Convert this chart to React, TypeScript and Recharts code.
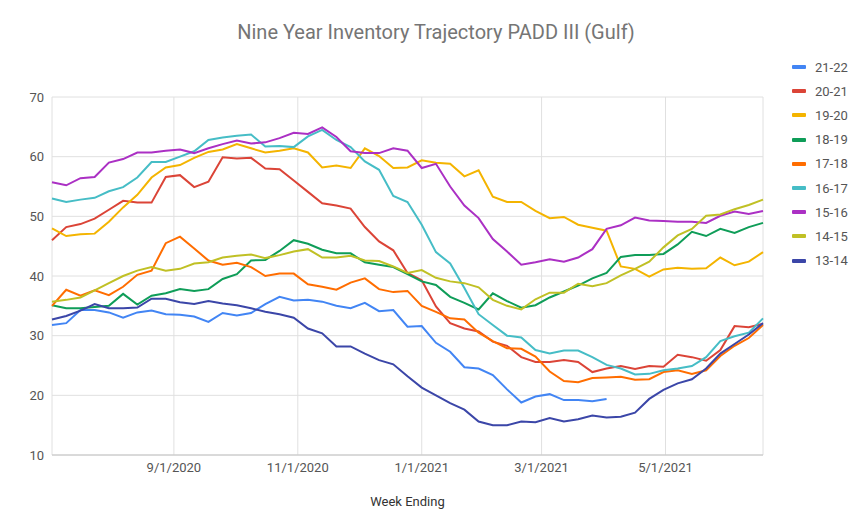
import React from 'react';
import { LineChart, Line, XAxis, YAxis, CartesianGrid } from 'recharts';

const weeks = [
  '2020-07-03', '2020-07-10', '2020-07-17', '2020-07-24', '2020-07-31',
  '2020-08-07', '2020-08-14', '2020-08-21', '2020-08-28',
  '2020-09-04', '2020-09-11', '2020-09-18', '2020-09-25',
  '2020-10-02', '2020-10-09', '2020-10-16', '2020-10-23', '2020-10-30',
  '2020-11-06', '2020-11-13', '2020-11-20', '2020-11-27',
  '2020-12-04', '2020-12-11', '2020-12-18', '2020-12-25',
  '2021-01-01', '2021-01-08', '2021-01-15', '2021-01-22', '2021-01-29',
  '2021-02-05', '2021-02-12', '2021-02-19', '2021-02-26',
  '2021-03-05', '2021-03-12', '2021-03-19', '2021-03-26',
  '2021-04-02', '2021-04-09', '2021-04-16', '2021-04-23', '2021-04-30',
  '2021-05-07', '2021-05-14', '2021-05-21', '2021-05-28',
  '2021-06-04', '2021-06-11', '2021-06-18',
];

const tickDates = ['2020-09-01', '2020-11-01', '2021-01-01', '2021-03-01', '2021-05-01'];
const yTicks = [10, 20, 30, 40, 50, 60, 70];

const s2122 = [
  31.8, 32.1, 34.3, 34.3, 33.9, 33.0, 33.9, 34.2, 33.6, 33.5, 33.2, 32.3, 33.8,
  33.4, 33.8, 35.3, 36.5, 35.9, 36.0, 35.7, 35.0, 34.6, 35.5, 34.1, 34.3, 31.5,
  31.6, 28.8, 27.3, 24.7, 24.5, 23.4, 21.0, 18.8, 19.8, 20.2, 19.2, 19.2, 19.0,
  19.4,
];
const s2021 = [
  46.0, 48.2, 48.7, 49.6, 51.1, 52.6, 52.3, 52.3, 56.6, 56.9, 54.9, 55.8, 59.9,
  59.7, 59.8, 58.0, 57.9, 56.0, 54.1, 52.2, 51.8, 51.3, 48.2, 45.8, 44.3, 40.5,
  39.3, 34.9, 32.1, 31.2, 30.7, 29.0, 28.3, 26.4, 25.6, 25.6, 25.9, 25.6, 23.9,
  24.5, 24.9, 24.4, 24.9, 24.8, 26.8, 26.4, 25.8, 27.6, 31.6, 31.4, 32.0,
];
const s1920 = [
  48.0, 46.7, 47.0, 47.1, 49.1, 51.5, 53.6, 56.5, 58.2, 58.6, 59.8, 60.8, 61.2,
  62.1, 61.4, 60.7, 61.0, 61.4, 60.7, 58.2, 58.5, 58.1, 61.4, 60.1, 58.1, 58.2,
  59.4, 59.0, 58.8, 56.7, 57.7, 53.3, 52.4, 52.4, 50.9, 49.7, 49.9, 48.6, 48.1,
  47.6, 41.6, 41.2, 39.9, 41.1, 41.4, 41.2, 41.3, 43.1, 41.8, 42.4, 44.0,
];
const s1819 = [
  35.1, 34.6, 34.6, 34.8, 35.0, 37.0, 35.2, 36.7, 37.1, 37.8, 37.5, 37.8, 39.5,
  40.3, 42.6, 42.7, 44.2, 46.0, 45.4, 44.4, 43.8, 43.8, 42.3, 41.9, 41.5, 40.3,
  39.1, 38.5, 36.5, 35.5, 34.4, 37.1, 35.8, 34.7, 35.1, 36.4, 37.4, 38.4, 39.6,
  40.5, 43.2, 43.5, 43.5, 43.7, 45.3, 47.4, 46.7, 47.9, 47.2, 48.2, 48.9,
];
const s1718 = [
  35.0, 37.7, 36.7, 37.6, 36.8, 38.2, 40.2, 40.9, 45.5, 46.6, 44.6, 42.6, 41.9,
  42.2, 41.5, 40.0, 40.4, 40.4, 38.6, 38.2, 37.7, 38.9, 39.6, 37.8, 37.3, 37.5,
  35.0, 34.0, 32.9, 32.7, 30.5, 29.1, 27.9, 27.8, 26.5, 24.0, 22.4, 22.2, 22.9,
  23.0, 23.1, 22.6, 22.7, 23.9, 24.2, 23.6, 24.2, 26.6, 28.3, 29.6, 31.8,
];
const s1617 = [
  53.0, 52.4, 52.8, 53.1, 54.2, 54.9, 56.5, 59.1, 59.1, 60.0, 60.9, 62.8, 63.2,
  63.5, 63.7, 61.7, 61.8, 61.6, 63.4, 64.5, 62.8, 61.6, 59.2, 57.8, 53.4, 52.4,
  48.6, 44.0, 42.1, 38.0, 33.6, 31.8, 30.0, 29.7, 27.6, 27.0, 27.5, 27.5, 26.4,
  25.1, 24.5, 23.5, 23.6, 24.2, 24.5, 24.9, 26.4, 29.1, 29.9, 30.5, 32.9,
];
const s1516 = [
  55.7, 55.2, 56.4, 56.6, 59.0, 59.6, 60.7, 60.7, 61.0, 61.2, 60.6, 61.4, 62.1,
  62.7, 62.2, 62.4, 63.1, 64.0, 63.8, 64.9, 63.3, 60.9, 60.6, 60.6, 61.4, 61.0,
  58.1, 58.8, 55.0, 51.8, 49.7, 46.2, 44.1, 41.9, 42.3, 42.8, 42.4, 43.1, 44.5,
  47.9, 48.5, 49.8, 49.3, 49.2, 49.1, 49.1, 48.9, 50.1, 50.8, 50.4, 50.9,
];
const s1415 = [
  35.7, 36.0, 36.4, 37.6, 38.8, 40.0, 40.9, 41.5, 40.9, 41.2, 42.1, 42.3, 43.1,
  43.4, 43.6, 43.0, 43.5, 44.1, 44.5, 43.1, 43.1, 43.4, 42.6, 42.5, 41.6, 40.5,
  41.0, 39.7, 39.1, 38.8, 38.1, 36.0, 35.0, 34.4, 36.1, 37.2, 37.2, 38.7, 38.3,
  38.8, 40.1, 41.2, 42.4, 44.8, 46.8, 47.9, 50.1, 50.3, 51.2, 51.9, 52.8,
];
const s1314 = [
  32.7, 33.3, 34.2, 35.3, 34.6, 34.6, 34.7, 36.2, 36.2, 35.6, 35.3, 35.8, 35.4,
  35.1, 34.6, 34.0, 33.6, 33.0, 31.2, 30.4, 28.2, 28.2, 27.0, 25.9, 25.2, 23.2,
  21.3, 20.0, 18.7, 17.6, 15.6, 15.0, 15.0, 15.6, 15.5, 16.2, 15.6, 16.0, 16.6,
  16.3, 16.4, 17.1, 19.4, 20.9, 22.0, 22.7, 24.5, 27.0, 28.6, 30.2, 32.1,
];

const series = [
  { key: 's2122', name: '21-22', color: '#4285F4', values: s2122 },
  { key: 's2021', name: '20-21', color: '#DB4437', values: s2021 },
  { key: 's1920', name: '19-20', color: '#F4B400', values: s1920 },
  { key: 's1819', name: '18-19', color: '#0F9D58', values: s1819 },
  { key: 's1718', name: '17-18', color: '#FF6D00', values: s1718 },
  { key: 's1617', name: '16-17', color: '#46BDC6', values: s1617 },
  { key: 's1516', name: '15-16', color: '#AB30C4', values: s1516 },
  { key: 's1415', name: '14-15', color: '#C0C025', values: s1415 },
  { key: 's1314', name: '13-14', color: '#3B46A8', values: s1314 },
];

const data = weeks.map((w, i) => {
  const row: Record<string, number | null> = { t: new Date(w).getTime() };
  series.forEach((s) => {
    row[s.key] = i < s.values.length ? s.values[i] : null;
  });
  return row;
});

const xTicks = tickDates.map((d) => new Date(d).getTime());

function fmtDate(t: number) {
  const d = new Date(t);
  return `${d.getUTCMonth() + 1}/${d.getUTCDate()}/${d.getUTCFullYear()}`;
}

const font = 'Roboto, "Noto Sans", Arial, sans-serif';

export default function App() {
  return (
    <div style={{ position: 'absolute', left: 0, top: 0, width: 860, height: 515, background: '#fff', fontFamily: font }}>
      <div
        style={{
          position: 'absolute',
          left: 0,
          width: 872,
          top: 20,
          textAlign: 'center',
          fontSize: 20,
          color: '#757575',
        }}
      >
        Nine Year Inventory Trajectory PADD III (Gulf)
      </div>

      <LineChart width={860} height={515} data={data} margin={{ top: 97, right: 97, left: 0, bottom: 0 }}>
        <CartesianGrid stroke="#e0e0e0" />
        <XAxis
          dataKey="t"
          type="number"
          scale="linear"
          domain={[data[0].t as number, data[data.length - 1].t as number]}
          ticks={xTicks}
          tickFormatter={fmtDate}
          height={60}
          tickLine={false}
          axisLine={{ stroke: '#c4c4c4' }}
          tick={{ fontSize: 13, fill: '#555', fontFamily: font }}
          label={{ value: 'Week Ending', position: 'insideBottom', offset: 9, fontSize: 13, fill: '#333', fontFamily: font }}
        />
        <YAxis
          domain={[10, 70]}
          ticks={yTicks}
          width={52}
          tickLine={false}
          axisLine={false}
          tick={{ fontSize: 13, fill: '#555', fontFamily: font }}
        />
        {series.map((s) => (
          <Line
            key={s.key}
            dataKey={s.key}
            name={s.name}
            type="linear"
            stroke={s.color}
            strokeWidth={2}
            dot={false}
            isAnimationActive={false}
          />
        ))}
      </LineChart>

      <div style={{ position: 'absolute', left: 792, top: 55 }}>
        {series.map((s) => (
          <div key={s.key} style={{ display: 'flex', alignItems: 'center', height: 24.2 }}>
            <span style={{ width: 14, height: 4, background: s.color, borderRadius: 1, marginRight: 9 }} />
            <span style={{ fontSize: 13, color: '#555' }}>{s.name}</span>
          </div>
        ))}
      </div>
    </div>
  );
}
